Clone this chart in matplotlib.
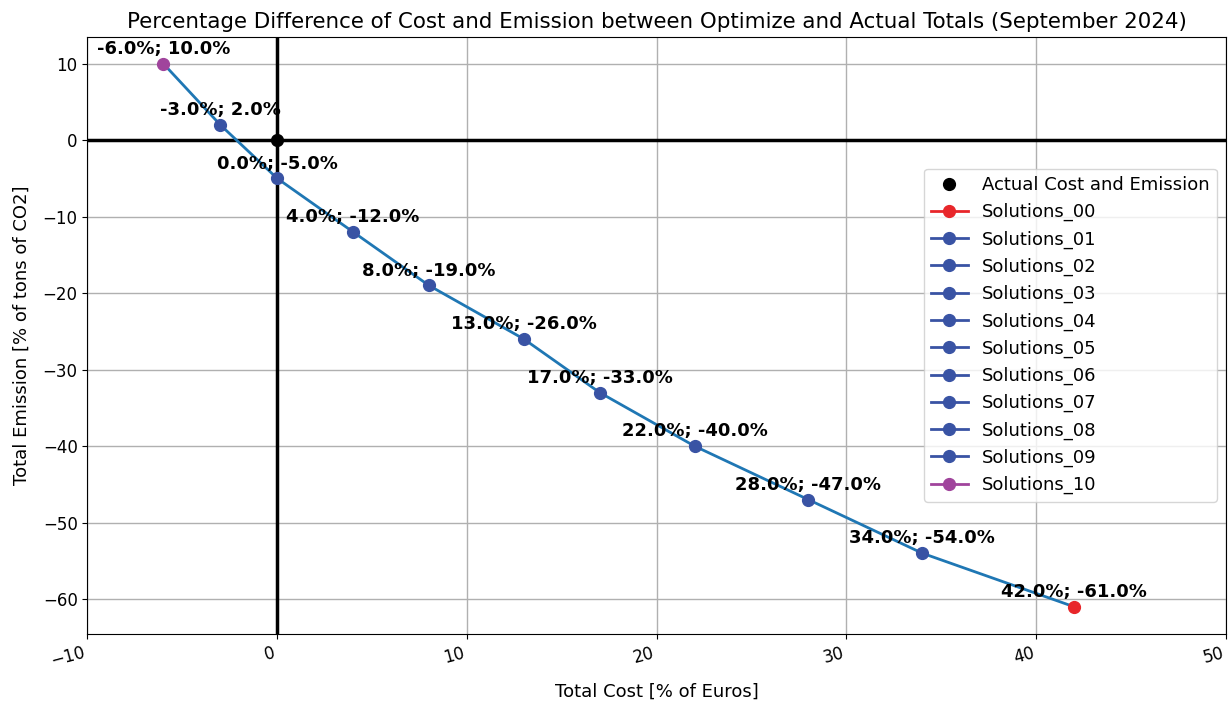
import matplotlib
matplotlib.use("Agg")
import matplotlib.pyplot as plt

# solution points (% difference vs actual)
cost = [42.0, 34.0, 28.0, 22.0, 17.0, 13.0, 8.0, 4.0, 0.0, -3.0, -6.0]
emission = [-61.0, -54.0, -47.0, -40.0, -33.0, -26.0, -19.0, -12.0, -5.0, 2.0, 10.0]
names = ["Solutions_%02d" % i for i in range(11)]
colours = ["#e8262a"] + ["#3953a4"] * 9 + ["#a0449c"]

fig, ax = plt.subplots(figsize=(12.32, 7.02), dpi=100)

ax.axhline(0, color="black", lw=2.5, zorder=2)
ax.axvline(0, color="black", lw=2.5, zorder=2)
ax.plot(0, 0, "o", color="black", ms=8.5, ls="none", label="Actual Cost and Emission", zorder=4)

ax.plot(cost, emission, "-", color="tab:blue", lw=2, zorder=3)
for x, y, n, c in zip(cost, emission, names, colours):
    ax.plot(x, y, "o-", color=c, ms=8.5, lw=2, label=n, zorder=4)
    ax.annotate("%.1f%%; %.1f%%" % (x, y), (x, y), textcoords="offset points",
                xytext=(0, 7), ha="center", fontsize=13, fontweight="bold")

ax.set_xlim(-10, 50)
ax.grid(True, color="#b0b0b0", lw=1)
ax.set_axisbelow(True)
ax.tick_params(labelsize=12)
plt.xticks(rotation=15, ha="right")
ax.set_xlabel("Total Cost [% of Euros]", fontsize=13, labelpad=9)
ax.set_ylabel("Total Emission [% of tons of CO2]", fontsize=13, labelpad=9)
ax.set_title("Percentage Difference of Cost and Emission between Optimize and Actual Totals (September 2024)",
             fontsize=15.4)
ax.legend(loc="center right", fontsize=13)

fig.subplots_adjust(left=0.071, right=0.995, top=0.948, bottom=0.097)
fig.savefig("out.png")
